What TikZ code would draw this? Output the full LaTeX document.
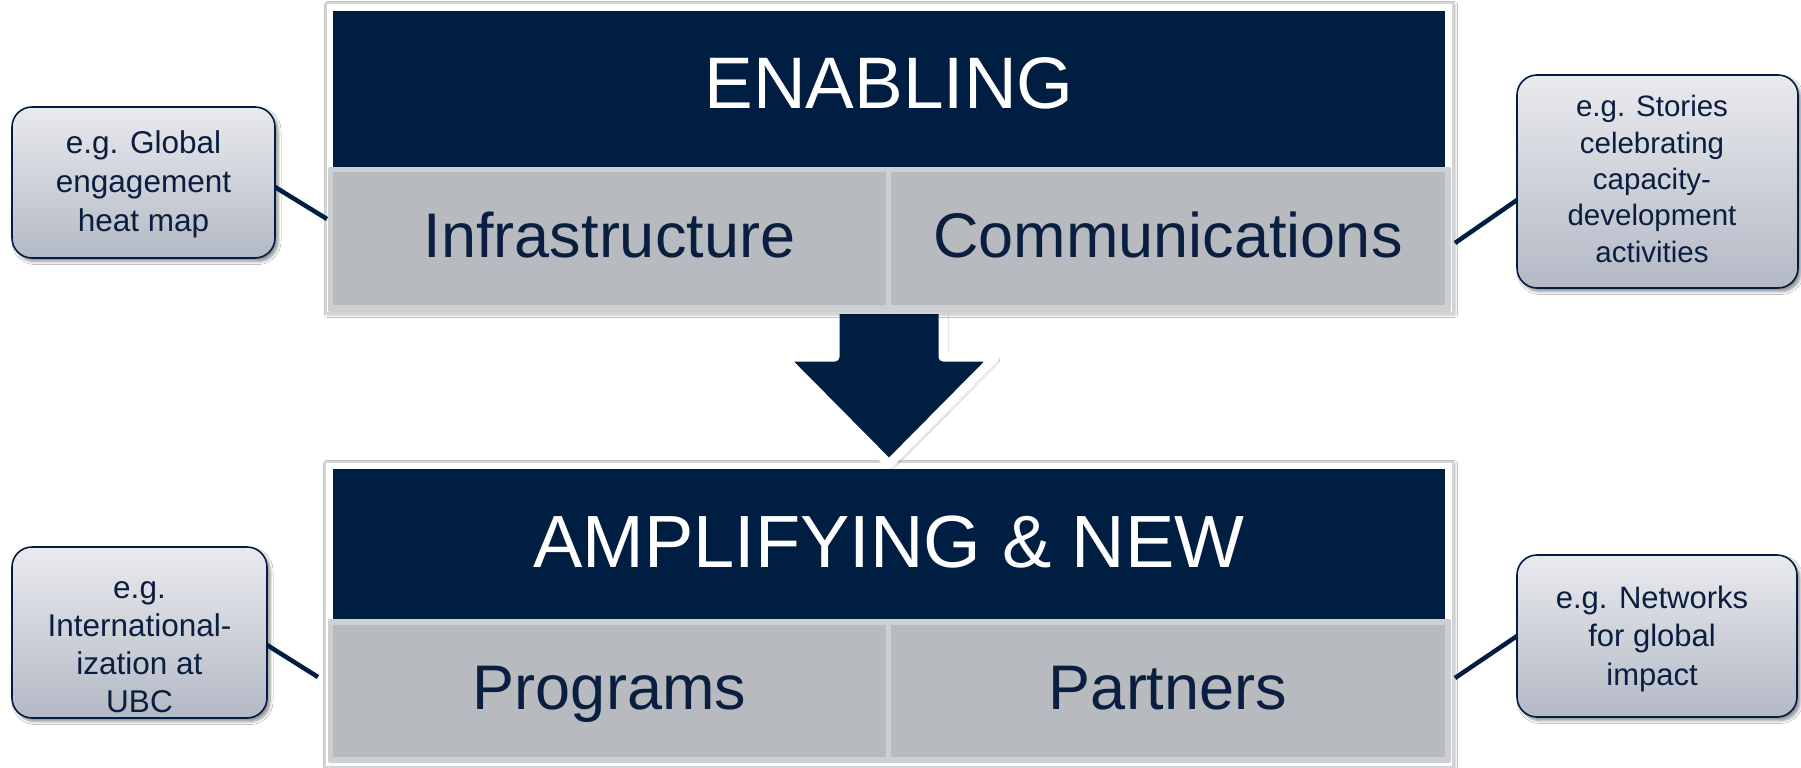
\documentclass[tikz,border=0pt]{standalone}
\usepackage{fontspec}
\setmainfont{Liberation Sans}
\usetikzlibrary{shadows.blur}
\definecolor{navy}{HTML}{001E42}
\definecolor{cellfill}{HTML}{B7BBBF}
\definecolor{cellrim}{HTML}{CDD0D3}
\definecolor{calltop}{HTML}{E9EAEE}
\definecolor{callbot}{HTML}{B3B9C5}
\definecolor{framerim}{HTML}{D4D4D4}
\definecolor{celltext}{HTML}{0A1E3F}
\begin{document}
\begin{tikzpicture}[x=1pt,y=-1pt,
  every node/.style={inner sep=0pt, outer sep=0pt},
  frame/.style={draw=framerim, line width=1.2pt, fill=white,
    blur shadow={shadow xshift=1.5pt, shadow yshift=-1.5pt, shadow blur steps=6, shadow blur radius=3pt, shadow opacity=35}},
  titlebox/.style={fill=navy, text=white},
  rim/.style={fill=cellrim, rounded corners=2pt},
  cell/.style={fill=cellfill, text=celltext, font=\fontsize{63}{70}\selectfont, text height=46pt, text depth=9pt},
  callout/.style={draw=navy, line width=1.6pt, rounded corners=20pt, top color=calltop, bottom color=callbot,
    blur shadow={shadow xshift=3pt, shadow yshift=-3.5pt, shadow blur steps=6, shadow blur radius=3pt, shadow opacity=45}},
  ctext/.style={text=celltext, align=center},
  conn/.style={draw=navy, line width=4.5pt},
  bigarrow/.style={fill=navy, draw=white, line width=9pt, line join=round,
    blur shadow={shadow xshift=2pt, shadow yshift=-3pt, shadow blur steps=6, shadow blur radius=3pt, shadow opacity=40}}
]
\useasboundingbox (0,0) rectangle (1801,768);
\fill[white] (0,0) rectangle (1801,768);

% bottom block
\node[frame, minimum width=1128pt, minimum height=305pt] (fbot) at (889,614.5) {};
\node[titlebox, minimum width=1112pt, minimum height=150pt, font=\fontsize{74}{80}\selectfont, text height=53pt, text depth=7pt] (amp) at (889,544) {AMPLIFYING \& NEW};
\node[rim, minimum width=1123pt, minimum height=144pt] (rbot) at (889.5,691) {};
\node[cell, minimum width=553pt, minimum height=132pt] (prog) at (609.5,691) {Programs};
\node[cell, minimum width=554pt, minimum height=132pt] (part) at (1168,691) {Partners};

% arrow
\draw[bigarrow] (835,300) -- (943,300) -- (943,357) -- (995,357) -- (889,464) -- (783,357) -- (835,357) -- cycle;

% top block
\node[frame, minimum width=1127pt, minimum height=310pt] (ftop) at (889.5,158) {};
\node[titlebox, minimum width=1112pt, minimum height=156pt, font=\fontsize{73}{80}\selectfont, text height=52pt, text depth=14pt] (enab) at (889,89) {ENABLING};
\node[rim, minimum width=1123pt, minimum height=145pt] (rtop) at (889.5,239.5) {};
\node[cell, minimum width=553pt, minimum height=133pt] (infra) at (609.5,238.5) {Infrastructure};
\node[cell, minimum width=554pt, minimum height=133pt] (comm) at (1168,238.5) {Communications};

% callouts
\node[callout, minimum width=263pt, minimum height=151pt] (cTL) at (143.5,182.5) {};
\node[ctext, font=\fontsize{31.5}{39}\selectfont] (tTL) at (143.5,184.8) {e.g. Global\\engagement\\heat map};
\node[callout, minimum width=281pt, minimum height=213pt] (cTR) at (1657.5,181.5) {};
\node[ctext, font=\fontsize{29.5}{36.3}\selectfont] (tTR) at (1652,179) {e.g. Stories\\celebrating\\capacity-\\development\\activities};
\node[callout, minimum width=255pt, minimum height=171pt] (cBL) at (139.5,632.5) {};
\node[ctext, font=\fontsize{31.5}{38}\selectfont] (tBL) at (139.5,647) {e.g.\\International-\\ization at\\UBC};
\node[callout, minimum width=280pt, minimum height=162pt] (cBR) at (1657,636) {};
\node[ctext, font=\fontsize{31}{38.5}\selectfont] (tBR) at (1652,638.6) {e.g. Networks\\for global\\impact};

% connectors
\coordinate (eTL) at (327,219);
\coordinate (eTR) at (1455,243);
\coordinate (eBL) at (318,677);
\coordinate (eBR) at (1455,678);
\draw[conn] ([yshift=-4.5pt]cTL.east) -- (eTL);
\draw[conn] ([yshift=-18.5pt]cTR.west) -- (eTR);
\draw[conn] ([yshift=-12.5pt]cBL.east) -- (eBL);
\draw[conn] (cBR.west) -- (eBR);
\end{tikzpicture}
\end{document}
